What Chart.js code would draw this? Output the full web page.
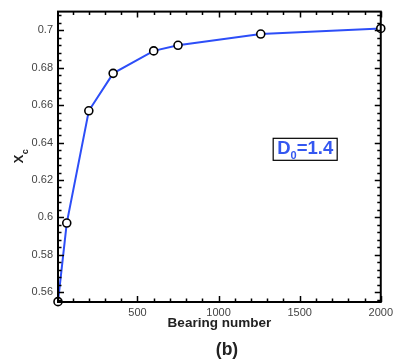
<!DOCTYPE html>
<html>
<head>
<meta charset="utf-8">
<script src="https://cdn.jsdelivr.net/npm/chart.js@4"></script>
<style>
html,body{margin:0;padding:0;background:#fff;}
#wrap{width:397px;height:362px;position:relative;}
</style>
</head>
<body>
<div id="wrap"><canvas id="c" width="397" height="362"></canvas></div>
<script>
// ---- data ----
const bearingNumber = [10, 64, 200, 350, 600, 750, 1260, 2000];
const xcValues      = [0.555, 0.597, 0.657, 0.677, 0.689, 0.692, 0.698, 0.701];
const xTickValues   = [500, 1000, 1500, 2000];
const yTickValues   = [0.56, 0.58, 0.60, 0.62, 0.64, 0.66, 0.68, 0.70];
const xTitle = "Bearing number";
const yTitleMain = "X";
const yTitleSub = "c";
const panelLabel = "(b)";
const annotMain = "D";
const annotSub = "0";
const annotRest = "=1.4";
const annotAt = {x: 1534, y: 0.6364};

const FONT = '"Liberation Sans", Arial, sans-serif';

const frame = {
  id: 'frame',
  afterDraw(chart) {
    const {ctx, chartArea: a, scales: {x, y}} = chart;
    ctx.save();
    ctx.strokeStyle = '#000';
    // minor / major ticks (inside, mirrored)
    ctx.lineWidth = 1.5;
    ctx.beginPath();
    for (let v = 100; v <= 2000; v += 100) {
      const px = Math.round(x.getPixelForValue(v)) + 0.5;
      const len = (v % 500 === 0) ? 6 : 3.5;
      ctx.moveTo(px, a.bottom); ctx.lineTo(px, a.bottom - len);
      ctx.moveTo(px, a.top); ctx.lineTo(px, a.top + len);
    }
    for (let i = 0; i <= 40; i++) {
      const v = 0.556 + i * 0.004;
      if (v > 0.7101) break;
      const py = Math.round(y.getPixelForValue(v)) + 0.5;
      const m = Math.round(v * 1000) % 20;
      const len = (m === 0) ? 6 : 3.5;
      ctx.moveTo(a.left, py); ctx.lineTo(a.left + len, py);
      ctx.moveTo(a.right, py); ctx.lineTo(a.right - len, py);
    }
    ctx.stroke();
    // frame
    ctx.lineWidth = 2;
    ctx.strokeRect(a.left, a.top, a.right - a.left, a.bottom - a.top);

    // axis titles
    ctx.fillStyle = '#222';
    ctx.font = 'bold 13.5px ' + FONT;
    ctx.textAlign = 'center';
    ctx.textBaseline = 'middle';
    ctx.fillText(xTitle, (a.left + a.right) / 2, 323);
    ctx.font = 'bold 17.5px ' + FONT;
    ctx.fillText(panelLabel, 227, 350);

    // y title rotated
    ctx.save();
    ctx.translate(18.3, 155);
    ctx.rotate(-Math.PI / 2);
    ctx.font = 'bold 13px ' + FONT;
    ctx.textAlign = 'left';
    ctx.textBaseline = 'alphabetic';
    ctx.fillText(yTitleMain, -8.3, 4.5);
    const w = ctx.measureText(yTitleMain).width;
    ctx.font = 'bold 9px ' + FONT;
    ctx.fillText(yTitleSub, -8.3 + w + 0.5, 9.5);
    ctx.restore();

    // annotation
    const cx = x.getPixelForValue(annotAt.x);
    const cy = y.getPixelForValue(annotAt.y);
    const big = 'bold 18.5px ' + FONT, small = 'bold 11px ' + FONT;
    ctx.font = big;
    const w1 = ctx.measureText(annotMain).width;
    const w3 = ctx.measureText(annotRest).width;
    ctx.font = small;
    const w2 = ctx.measureText(annotSub).width;
    const tw = w1 + w2 + w3;
    const bx = cx - tw / 2 - 4, bw = tw + 8, by = cy - 11, bh = 22;
    ctx.fillStyle = '#fff';
    ctx.fillRect(bx, by, bw, bh);
    ctx.lineWidth = 1.2;
    ctx.strokeStyle = '#000';
    ctx.strokeRect(bx, by, bw, bh);
    ctx.fillStyle = '#3457f0';
    ctx.textAlign = 'left';
    ctx.textBaseline = 'alphabetic';
    let tx = cx - tw / 2;
    ctx.font = big;
    ctx.fillText(annotMain, tx, cy + 5);
    tx += w1;
    ctx.font = small;
    ctx.fillText(annotSub, tx, cy + 10);
    tx += w2;
    ctx.font = big;
    ctx.fillText(annotRest, tx, cy + 5);
    ctx.restore();
  }
};

new Chart(document.getElementById('c'), {
  type: 'scatter',
  data: {
    datasets: [{
      data: bearingNumber.map((b, i) => ({x: b, y: xcValues[i]})),
      showLine: true,
      borderColor: '#2d4ef8',
      borderWidth: 2,
      pointRadius: 4,
      pointBorderWidth: 1.6,
      pointBorderColor: '#000',
      pointBackgroundColor: '#fff',
      tension: 0,
      clip: false
    }]
  },
  options: {
    responsive: false,
    animation: false,
    devicePixelRatio: 1,
    layout: {padding: {top: 10, right: 15, left: 0, bottom: 0}},
    plugins: {legend: {display: false}, tooltip: {enabled: false}},
    scales: {
      x: {
        type: 'linear', min: 10, max: 2000,
        grid: {display: false, drawTicks: false},
        border: {display: false},
        afterBuildTicks: s => { s.ticks = xTickValues.map(v => ({value: v})); },
        afterFit: s => { s.height = 60; },
        ticks: {padding: 4, color: '#444', font: {family: FONT, size: 11}, maxRotation: 0,
                callback: v => String(v)}
      },
      y: {
        type: 'linear', min: 0.5548, max: 0.71,
        grid: {display: false, drawTicks: false},
        border: {display: false},
        afterBuildTicks: s => { s.ticks = yTickValues.map(v => ({value: v})); },
        afterFit: s => { s.width = 58; },
        ticks: {padding: 5, color: '#444', font: {family: FONT, size: 11},
                callback: v => String(+v.toFixed(2))}
      }
    }
  },
  plugins: [frame]
});
</script>
</body>
</html>
